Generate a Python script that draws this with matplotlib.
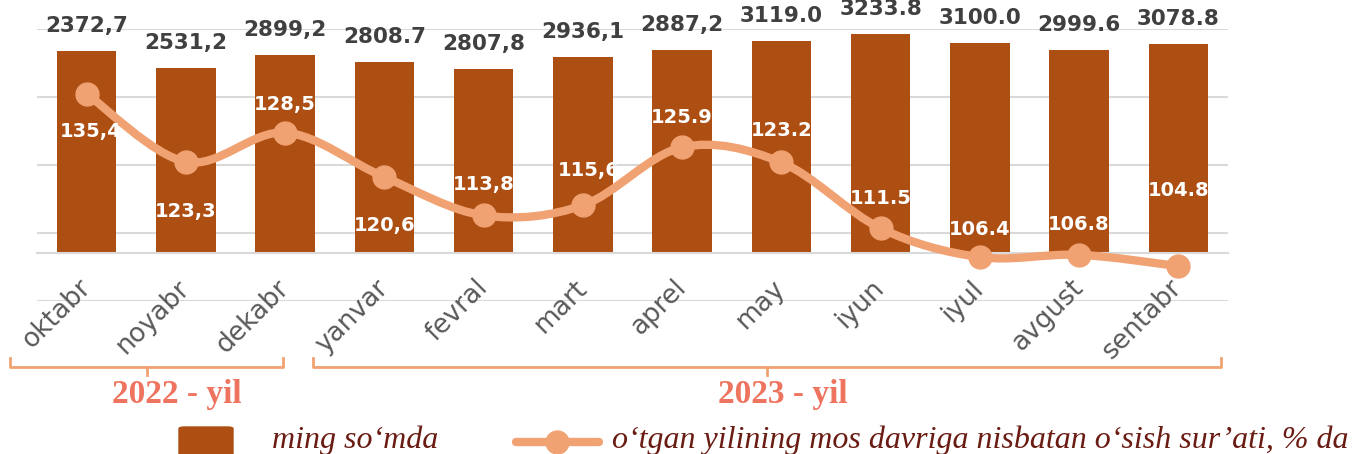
import matplotlib
matplotlib.use("Agg")
import matplotlib.pyplot as plt
import matplotlib.transforms as mtransforms
from matplotlib.path import Path
from matplotlib.patches import PathPatch, FancyBboxPatch
from matplotlib.lines import Line2D
import numpy as np

months = ["oktabr", "noyabr", "dekabr", "yanvar", "fevral", "mart",
          "aprel", "may", "iyun", "iyul", "avgust", "sentabr"]
# bar labels as printed on the chart
bar_labels = ["2372,7", "2531,2", "2899,2", "2808.7", "2807,8", "2936,1",
              "2887,2", "3119.0", "3233.8", "3100.0", "2999.6", "3078.8"]
# bar heights as drawn (the first bars do not follow their labels)
bar_heights = [2977, 2722, 2923, 2808.7, 2708, 2889,
               2988, 3119.0, 3233.8, 3100.0, 2999.6, 3078.8]
growth = [135.4, 123.3, 128.5, 120.6, 113.8, 115.6,
          125.9, 123.2, 111.5, 106.4, 106.8, 104.8]
growth_labels = ["135,4", "123,3", "128,5", "120,6", "113,8", "115,6",
                 "125.9", "123.2", "111.5", "106.4", "106.8", "104.8"]
years = ["2022 - yil", "2023 - yil"]
legend_labels = ["ming so\u2018mda",
                 "o\u2018tgan yilining mos davriga nisbatan o\u2018sish sur\u2019ati, % da"]

BAR_COLOR = "#AD4E12"
LINE_COLOR = "#F1A273"
GRID_COLOR = "#D9D9D9"
YEAR_COLOR = "#EE745F"
LEGEND_TEXT = "#6A1B12"

# label offsets for the growth values, in pixels
growth_offsets = [(4, -38), (0, -50), (0, 28), (0, -48), (0, 31), (6, 35),
                  (0, 30), (0, 32), (0, 30), (0, 28), (0, 30), (0, 76)]
bracket_spans = [(-0.77, 1.98), (2.28, 11.43)]
year_x = [0.91, 7.01]

W, H = 1353, 454
fig = plt.figure(figsize=(W / 100, H / 100), dpi=100)
ax = fig.add_axes([37 / W, 1 - 301 / H, (1228 - 37) / W, (301 - 29) / H])
ax2 = ax.twinx()

n = len(months)
x = np.arange(n)

ax.bar(x, bar_heights, width=0.6, color=BAR_COLOR, zorder=2)
ax.set_xlim(-0.5, n - 0.5)
ax.set_ylim(-707.5, 3302)
ax.set_yticks(np.linspace(-707.5, 3302, 5))
ax.yaxis.grid(True, color=GRID_COLOR, lw=1.5)
ax.set_axisbelow(True)
ax.tick_params(left=False, labelleft=False, bottom=False, labelbottom=False)
for s in ["top", "left", "right"]:
    ax.spines[s].set_visible(False)
ax.spines["bottom"].set_position(("data", 0))
ax.spines["bottom"].set_color(GRID_COLOR)
ax.spines["bottom"].set_linewidth(1.5)

for i in range(n):
    ax.annotate(bar_labels[i], (x[i], bar_heights[i]), xytext=(0, 25),
                textcoords="offset pixels", ha="center", va="center",
                fontsize=15.5, fontweight="bold", color="#404040",
                annotation_clip=False)
    ax.annotate(months[i], (x[i], 0), xytext=(0, -31),
                textcoords="offset pixels", ha="right", va="center",
                rotation=45, rotation_mode="anchor", fontsize=19,
                color="#595959", annotation_clip=False)

# smoothed growth line (bezier through the points)
gy = np.array(growth, dtype=float)
verts = [(x[0], gy[0])]
codes = [Path.MOVETO]
for i in range(n - 1):
    p0 = np.array([x[max(i - 1, 0)], gy[max(i - 1, 0)]])
    p1 = np.array([x[i], gy[i]])
    p2 = np.array([x[i + 1], gy[i + 1]])
    p3 = np.array([x[min(i + 2, n - 1)], gy[min(i + 2, n - 1)]])
    c1 = p1 + (p2 - p0) / 6
    c2 = p2 - (p3 - p1) / 6
    verts += [tuple(c1), tuple(c2), tuple(p2)]
    codes += [Path.CURVE4] * 3
ax2.add_patch(PathPatch(Path(verts, codes), fill=False, edgecolor=LINE_COLOR,
                        lw=6, capstyle="round", joinstyle="round"))
ax2.plot(x, growth, "o", ms=16.5, color=LINE_COLOR)
ax2.set_ylim(98.6, 146.9)
ax2.axis("off")

for i in range(n):
    ax2.annotate(growth_labels[i], (x[i], growth[i]), xytext=growth_offsets[i],
                 textcoords="offset pixels", ha="center", va="center",
                 fontsize=14, fontweight="bold", color="white")

# year brackets under the month names
tr = mtransforms.blended_transform_factory(ax.transData, fig.transFigure)
yb, yt, ym = 1 - 367 / H, 1 - 358 / H, 1 - 375 / H
for (x0, x1), label, xc in zip(bracket_spans, years, year_x):
    fig.add_artist(Line2D([x0, x0, x1, x1], [yt, yb, yb, yt], transform=tr,
                          color=LINE_COLOR, lw=2, solid_joinstyle="round"))
    xm = (x0 + x1) / 2
    fig.add_artist(Line2D([xm, xm], [yb, ym], transform=tr,
                          color=LINE_COLOR, lw=2))
    fig.text(xc, 1 - 394 / H, label, transform=tr, ha="center", va="center",
             fontsize=24, fontweight="bold", color=YEAR_COLOR,
             family="Liberation Serif")

# legend
fig.add_artist(FancyBboxPatch((179 / W, -10 / H), 54 / W, 37 / H,
                              boxstyle="round,pad=0,rounding_size=0.004",
                              transform=fig.transFigure, color=BAR_COLOR))
fig.text(272 / W, 1 - 440 / H, legend_labels[0], ha="left", va="center",
         fontsize=23, style="italic", color=LEGEND_TEXT, family="Liberation Serif")
fig.add_artist(Line2D([516 / W, 599 / W], [1 - 442 / H] * 2,
                      transform=fig.transFigure, color=LINE_COLOR, lw=6,
                      solid_capstyle="round"))
fig.add_artist(Line2D([557 / W], [1 - 442 / H], transform=fig.transFigure,
                      marker="o", ms=16.5, color=LINE_COLOR))
fig.text(612 / W, 1 - 440 / H, legend_labels[1], ha="left", va="center",
         fontsize=23, style="italic", color=LEGEND_TEXT, family="Liberation Serif")

fig.savefig("out.png", dpi=100)
